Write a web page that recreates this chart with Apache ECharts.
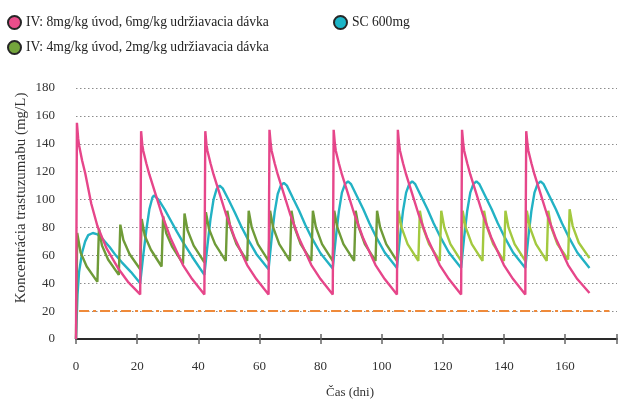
<!DOCTYPE html>
<html>
<head>
<meta charset="utf-8">
<script src="https://cdn.jsdelivr.net/npm/echarts@6/dist/echarts.min.js"></script>
<style>html,body{margin:0;padding:0;background:#fff}#c{width:624px;height:401px}</style>
</head>
<body>
<div id="c"></div>
<script>
const seriesNames = ['IV: 8mg/kg úvod, 6mg/kg udržiavacia dávka', 'IV: 4mg/kg úvod, 2mg/kg udržiavacia dávka', 'SC 600mg'];
const xTickLabels = [0, 20, 40, 60, 80, 100, 120, 140, 160];
const yTickLabels = [0, 20, 40, 60, 80, 100, 120, 140, 160, 180];
const thresholdLine = [[1, 20], [174.5, 20]];

const pinkData = [
  [0,0],[0.3,155],[0.7,144],[1,139],[2,128],[3,119],[5,97],[7,81],[10,65],[14,50],[17,41],[21,32],
  [21.3,149],[21.7,139],[22,135],[23,126],[24,118],[26,104],[28,90],[31,72],[35,53],[38,43],[42,32],
  [42.3,149],[42.7,139],[43,135],[44,126],[45,118],[47,104],[49,90],[52,72],[56,53],[59,43],[63,32],
  [63.3,150],[63.7,140],[64,135],[65,126],[66,118],[68,104],[70,90],[73,72],[77,53],[80,43],[84,32],
  [84.3,150],[84.7,140],[85,135],[86,126],[87,118],[89,104],[91,90],[94,72],[98,53],[101,43],[105,32],
  [105.3,150],[105.7,140],[106,135],[107,126],[108,118],[110,104],[112,90],[115,72],[119,53],[122,43],[126,32],
  [126.3,150],[126.7,140],[127,135],[128,126],[129,118],[131,104],[133,90],[136,72],[140,53],[143,43],[147,32],
  [147.3,149],[147.7,140],[148,135],[149,126],[150,118],[152,104],[154,90],[157,72],[161,53],[164,43],[168,33]
];

const greenData = [
  [0,0],[0.4,76],[1.5,62],[3.5,52],[7,41],
  [7.5,79],[8.5,67],[10.5,57],[14,46],
  [14.5,82],[15.5,71],[17.5,61],[21,50],
  [21.5,86],[22.5,74],[24.5,64],[28,52],
  [28.5,88],[29.5,76],[31.5,66],[35,54],
  [35.5,90],[36.5,78],[38.5,67],[42,55],
  [42.5,91],[43.5,79],[45.5,68],[49,56],
  [49.5,92],[50.5,80],[52.5,68],[56,56],
  [56.5,92],[57.5,80],[59.5,68],[63,56],
  [63.5,92],[64.5,80],[66.5,68],[70,56],
  [70.5,92],[71.5,80],[73.5,68],[77,56],
  [77.5,92],[78.5,80],[80.5,68],[84,56],
  [84.5,92],[85.5,80],[87.5,68],[91,56],
  [91.5,92],[92.5,80],[94.5,68],[98,56],
  [98.5,92],[99.5,80],[101.5,68],[105,56],
  [105.5,92],[106.5,80],[108.5,68],[112,56],
  [112.5,92],[113.5,80],[115.5,68],[119,56],
  [119.5,92],[120.5,80],[122.5,68],[126,56],
  [126.5,92],[127.5,80],[129.5,68],[133,56],
  [133.5,92],[134.5,80],[136.5,68],[140,56],
  [140.5,92],[141.5,80],[143.5,68],[147,56],
  [147.5,92],[148.5,80],[150.5,68],[154,56],
  [154.5,92],[155.5,80],[157.5,68],[161,57],
  [161.5,93],[162.5,81],[164.5,69],[168,58]
];
const greenColorSplitDay = 105;

const cyanData = [
  [0,0],[0.5,32],[1,48],[2,62],[3,70],[4,74.5],[5.5,76],[7,75],[9,71],[11,66],[13,60],[15,55],[18,48],[21,40],
  [22,60],[23,78],[24,93],[25,101.5],[25.5,103],[26,102.5],[27,100],[29,93],[31,85],[33,77],[35,69.5],[38,59],[42,46],
  [43,67],[44,86],[45,100],[46,107.5],[47,110],[48,108],[50,99.5],[52,90.5],[54,81],[56,72.5],[59,61],[63,50],
  [64,72],[65,91],[66,104],[67,110],[68,112],[69,110],[71,101],[73,92],[75,82],[77,73],[80,61.5],[84,50.5],
  [85,72.5],[86,91.5],[87,105],[88,111],[89,113],[90,111],[92,102],[94,93],[96,83],[98,74],[101,62],[105,51],
  [106,73],[107,92],[108,105],[109,111],[110,113],[111,111],[113,102],[115,93],[117,83],[119,74],[122,62],[126,51],
  [127,73],[128,92],[129,105],[130,111],[131,113],[132,111],[134,102],[136,93],[138,83],[140,74],[143,62],[147,51],
  [148,73],[149,92],[150,105],[151,111],[152,113],[153,111],[155,102],[157,93],[159,83],[161,74],[164,62],[168,51]
];

const FONT = '"Liberation Serif", "Times New Roman", serif';
const chart = echarts.init(document.getElementById('c'), null, {renderer: 'canvas'});
const legendCommon = {
  icon: 'circle', itemWidth: 13, itemHeight: 13,
  itemStyle: {borderColor: '#262626', borderWidth: 2},
  textStyle: {fontFamily: FONT, fontSize: 13.6, color: '#222'},
  selectedMode: false
};
chart.setOption({
  animation: false,
  backgroundColor: '#fff',
  grid: {left: 76, right: 7, top: 88, bottom: 62},
  legend: [
    Object.assign({data: [seriesNames[0]], left: 2, top: 10}, legendCommon),
    Object.assign({data: [seriesNames[1]], left: 2, top: 35}, legendCommon),
    Object.assign({data: [seriesNames[2]], left: 328, top: 10}, legendCommon)
  ],
  xAxis: [{
    type: 'value', min: 0, max: 177, position: 'bottom',
    axisLine: {show: true, lineStyle: {color: '#2a2a2a', width: 2}},
    axisTick: {show: true, inside: false, length: 5, customValues: xTickLabels.concat([177]), lineStyle: {color: '#666', width: 1.5}},
    axisLabel: {customValues: xTickLabels, margin: 21, fontFamily: FONT, fontSize: 13, color: '#333'},
    splitLine: {show: false}
  }, {
    type: 'value', min: 0, max: 177, position: 'bottom', offset: 0,
    axisLine: {show: false},
    axisTick: {show: true, inside: true, length: 5, customValues: xTickLabels.concat([177]), lineStyle: {color: '#666', width: 1.5}},
    axisLabel: {show: false},
    splitLine: {show: false}
  }],
  yAxis: {
    type: 'value', min: 0, max: 180, interval: 20,
    axisLine: {show: false}, axisTick: {show: false},
    axisLabel: {margin: 21, fontFamily: FONT, fontSize: 13, color: '#333',
      formatter: v => yTickLabels.indexOf(v) >= 0 ? String(v) : ''},
    splitLine: {show: true, lineStyle: {color: '#8c8c8c', type: [1.5, 2.5], width: 1.2}}
  },
  graphic: [
    {type: 'text', x: 21, y: 198, rotation: Math.PI / 2,
      style: {text: 'Koncentrácia trastuzumabu (mg/L)', font: '15px ' + FONT, fill: '#333', textAlign: 'center', textVerticalAlign: 'middle'}},
    {type: 'text', x: 350, y: 393,
      style: {text: 'Čas (dni)', font: '13px ' + FONT, fill: '#333', textAlign: 'center', textVerticalAlign: 'middle'}}
  ],
  series: [
    {name: seriesNames[2], type: 'line', data: cyanData, showSymbol: false, symbol: 'none',
      itemStyle: {color: '#1cb5c7'}, lineStyle: {color: '#22b2c4', width: 2.4}},
    {name: seriesNames[1], type: 'line', data: greenData.filter(d => d[0] <= greenColorSplitDay), showSymbol: false, symbol: 'none',
      itemStyle: {color: '#74a53c'}, lineStyle: {color: '#6f9b38', width: 2.4}},
    {name: seriesNames[1], type: 'line', data: greenData.filter(d => d[0] >= greenColorSplitDay), showSymbol: false, symbol: 'none',
      itemStyle: {color: '#74a53c'}, lineStyle: {color: '#a3c93f', width: 2.4}},
    {name: seriesNames[0], type: 'line', data: pinkData, showSymbol: false, symbol: 'none',
      itemStyle: {color: '#ea4e8b'}, lineStyle: {color: '#e6468a', width: 2.4}},
    {name: 'threshold', type: 'line', data: thresholdLine, showSymbol: false, symbol: 'none',
      lineStyle: {color: '#ef8a3a', width: 2, type: [10, 4, 3, 4]}, silent: true}
  ]
});
</script>
</body>
</html>
